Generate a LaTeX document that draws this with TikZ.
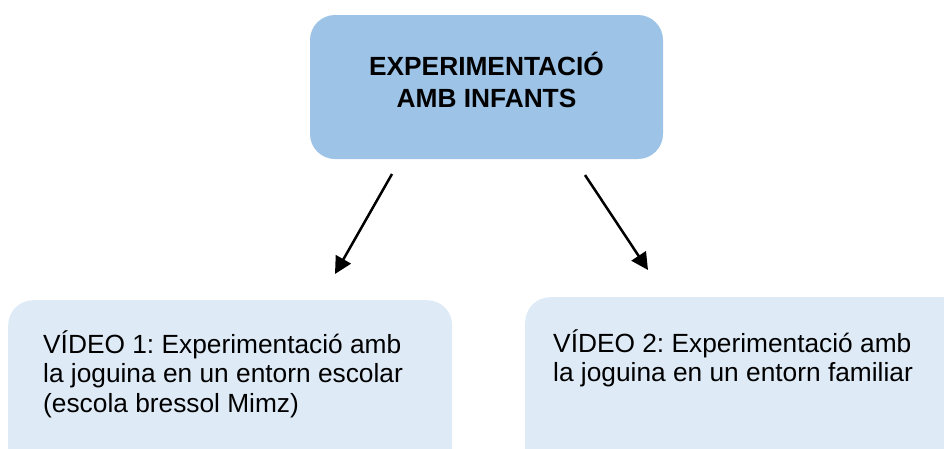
\documentclass[tikz,border=0pt]{standalone}
\usepackage{fontspec}
\setmainfont{Liberation Sans}
\usetikzlibrary{arrows.meta}
\definecolor{topblue}{HTML}{9DC3E6}
\definecolor{paleblue}{HTML}{DEEBF7}
\frenchspacing
\begin{document}
\begin{tikzpicture}[x=1pt,y=-1pt,
  topbox/.style={fill=topblue, draw=none, rounded corners=25pt, align=center,
    font=\fontsize{26.3}{32}\selectfont\bfseries, minimum width=353pt, minimum height=144pt, inner sep=0pt},
  videobox/.style={fill=paleblue, draw=none, rounded corners=25pt, anchor=north west,
    font=\fontsize{26.3}{29.5}\selectfont\frenchspacing, inner ysep=23pt},
  arrowline/.style={line width=2.5pt, -{Triangle[length=17pt,width=17pt]}}]
\useasboundingbox (0,0) rectangle (944,448);
\clip (0,0) rectangle (944,448);
\node[topbox] (top) at (486.5,87) {\rule{0pt}{26pt}EXPERIMENTACIÓ\\AMB INFANTS\rule[-18pt]{0pt}{18pt}};
\node[videobox, inner xsep=35pt] (v1) at (8,300) {\begin{minipage}[t][170pt][t]{374pt}\raggedright\frenchspacing
\rule{0pt}{30pt}VÍDEO 1: Experimentació amb\\
la joguina en un entorn escolar\\
(escola bressol Mimz)\end{minipage}};
\node[videobox, inner xsep=28pt, inner ysep=25pt] (v2) at (525,297) {\begin{minipage}[t][170pt][t]{440pt}\raggedright\frenchspacing
\rule{0pt}{30pt}VÍDEO 2: Experimentació amb\\
la joguina en un entorn familiar\end{minipage}};
\coordinate (a1s) at (392,174);
\coordinate (a1e) at (335,274);
\coordinate (a2s) at (585,175);
\coordinate (a2e) at (648,270);
\draw[arrowline] (a1s) -- (a1e);
\draw[arrowline] (a2s) -- (a2e);
\end{tikzpicture}
\end{document}
